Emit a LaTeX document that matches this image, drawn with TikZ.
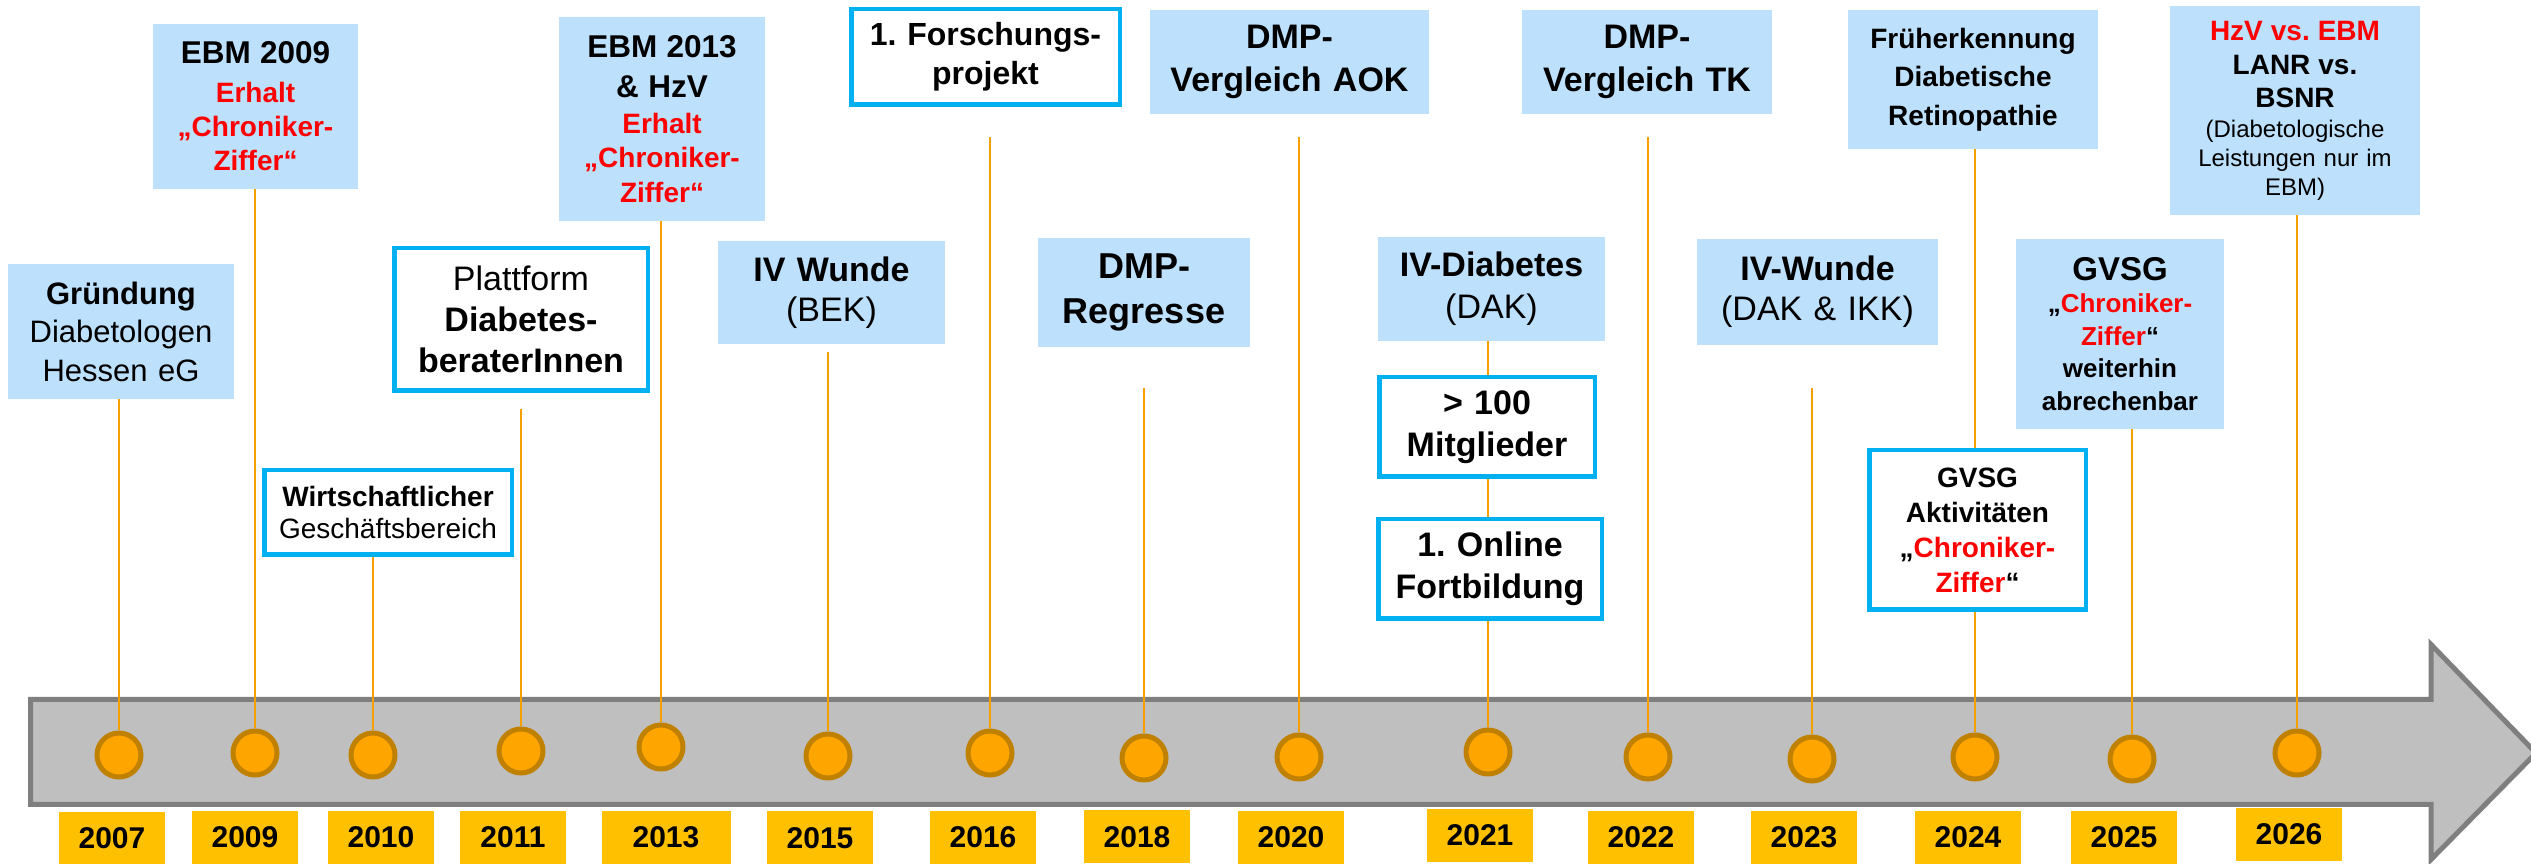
\documentclass[tikz,border=0pt]{standalone}
\usepackage{fontspec}
\setmainfont{Liberation Sans}
\usepackage{xcolor}
\usepackage{tikz}
\definecolor{boxblue}{RGB}{189, 224, 252}
\definecolor{framecyan}{RGB}{0, 176, 240}
\definecolor{zifferred}{RGB}{255, 0, 0}
\definecolor{yearyellow}{RGB}{255, 192, 0}
\definecolor{dotorange}{RGB}{255, 165, 0}
\definecolor{dotbrown}{RGB}{192, 128, 0}
\definecolor{stemorange}{RGB}{245, 160, 0}
\definecolor{barfill}{RGB}{191, 191, 191}
\definecolor{baredge}{RGB}{127, 127, 127}
\newcommand{\redtxt}[1]{\textcolor{zifferred}{#1}}
\frenchspacing

\begin{document}
\begin{tikzpicture}[
        x=1pt, y=1pt,
        bluebox/.style={rectangle, fill=boxblue, inner sep=0pt, align=center},
        framebox/.style={rectangle, draw=framecyan, line width=4.5pt, fill=white,
                    inner sep=0pt, align=center},
        yearbox/.style={rectangle, fill=yearyellow, minimum width=106pt, minimum height=53pt,
                    inner sep=0pt, font=\fontsize{30}{36}\selectfont\bfseries},
        dot/.style={circle, fill=dotorange, draw=dotbrown, line width=5pt,
                    minimum size=44pt, inner sep=0pt},
        stem/.style={draw=stemorange, line width=2pt}
    ]
        \useasboundingbox (0,0) rectangle (2531,864);

        % Timeline arrow
        \draw[fill=barfill, draw=baredge, line width=5pt, line join=miter]
            (30.5,164.5) -- (2431,164.5) -- (2431,219.5) -- (2536,111)
            -- (2431,4.5) -- (2431,59.5) -- (30.5,59.5) -- cycle;

        % Event boxes
        \node[bluebox, text width=226pt, minimum height=135pt, font=\fontsize{31}{38.5}\selectfont]
            (gruendung) at (121,532.5) {\textbf{Gründung}\\Diabetologen\\Hessen eG};
        \node[bluebox, text width=205pt, minimum height=165pt, font=\fontsize{28}{34}\selectfont\bfseries]
            (ebm09) at (255.5,757.5) {{\fontsize{31.5}{34}\selectfont EBM 2009}\\[5pt]\redtxt{Erhalt}\\\redtxt{„Chroniker-}\\\redtxt{Ziffer“}};
        \node[framebox, text width=247.5pt, minimum height=84.5pt, font=\fontsize{28}{32}\selectfont]
            (wirtschaft) at (388,351.5) {\textbf{Wirtschaftlicher}\\Geschäftsbereich};
        \node[framebox, text width=253.5pt, minimum height=142.5pt, font=\fontsize{34}{41}\selectfont]
            (plattform) at (521,544.5) {Plattform\\\textbf{Diabetes-}\\\textbf{beraterInnen}};
        \node[bluebox, text width=206pt, minimum height=204pt, font=\fontsize{28}{34.5}\selectfont\bfseries]
            (ebm13) at (662,745) {{\fontsize{31.5}{34}\selectfont EBM 2013}\\[5.5pt]{\fontsize{31.5}{34}\selectfont\& HzV}\\[1.5pt]\redtxt{Erhalt}\\\redtxt{„Chroniker-}\\\redtxt{Ziffer“}};
        \node[bluebox, text width=227pt, minimum height=103pt, font=\fontsize{34}{40}\selectfont]
            (ivwunde) at (831.5,571.5) {\textbf{IV Wunde}\\(BEK)};
        \node[framebox, text width=268.5pt, minimum height=95.5pt, font=\fontsize{32}{39}\selectfont\bfseries]
            (forschung) at (985.5,807) {1. Forschungs-\\projekt};
        \node[bluebox, text width=212pt, minimum height=109pt, font=\fontsize{36}{45}\selectfont\bfseries]
            (regresse) at (1144,571.5) {DMP-\\Regresse};
        \node[bluebox, text width=279pt, minimum height=104pt, font=\fontsize{34}{43}\selectfont\bfseries]
            (aok) at (1289.5,802) {DMP-\\Vergleich AOK};
        \node[bluebox, text width=227pt, minimum height=104pt, font=\fontsize{34}{42}\selectfont]
            (ivdiab) at (1491.5,575) {\textbf{IV-Diabetes}\\(DAK)};
        \node[framebox, text width=215.5pt, minimum height=99.5pt, font=\fontsize{34}{42}\selectfont\bfseries]
            (mitglieder) at (1487,437) {> 100\\Mitglieder};
        \node[framebox, text width=223.5pt, minimum height=99.5pt, font=\fontsize{34}{42}\selectfont\bfseries]
            (online) at (1490,295) {1. Online\\Fortbildung};
        \node[bluebox, text width=250pt, minimum height=104pt, font=\fontsize{34}{43}\selectfont\bfseries]
            (tk) at (1647,802) {DMP-\\Vergleich TK};
        \node[bluebox, text width=241pt, minimum height=106pt, font=\fontsize{34}{40}\selectfont]
            (ivwunde2) at (1817.5,572) {\textbf{IV-Wunde}\\(DAK \& IKK)};
        \node[bluebox, text width=250pt, minimum height=139pt, font=\fontsize{28}{38.5}\selectfont\bfseries]
            (retino) at (1973,784.5) {Früherkennung\\Diabetische\\Retinopathie};
        \node[framebox, text width=216.5pt, minimum height=159.5pt, font=\fontsize{28}{35}\selectfont\bfseries]
            (gvsgakt) at (1977.5,334) {GVSG\\Aktivitäten\\„\redtxt{Chroniker-}\\\redtxt{Ziffer}“};
        \node[bluebox, text width=208pt, minimum height=190pt, font=\fontsize{26}{32.5}\selectfont\bfseries]
            (gvsg) at (2120,530) {{\fontsize{33}{32.5}\selectfont GVSG}\\„\redtxt{Chroniker-}\\\redtxt{Ziffer}“\\weiterhin\\abrechenbar};
        \node[bluebox, text width=250pt, minimum height=209pt, font=\fontsize{24}{29}\selectfont]
            (hzv) at (2295,753.5) {\textbf{\fontsize{28}{29}\selectfont\redtxt{HzV vs. EBM}}\\[5pt]\textbf{\fontsize{28}{29}\selectfont LANR vs.}\\[4pt]\textbf{\fontsize{28}{29}\selectfont BSNR}\\[1pt](Diabetologische\\Leistungen nur im\\EBM)};

        % Dots on the arrow
        \node[dot] (c2007) at (119,109) {};
        \node[dot] (c2009) at (255,111) {};
        \node[dot] (c2010) at (373,109) {};
        \node[dot] (c2011) at (521,113) {};
        \node[dot] (c2013) at (661,117) {};
        \node[dot] (c2015) at (828,108) {};
        \node[dot] (c2016) at (990,111) {};
        \node[dot] (c2018) at (1144,106) {};
        \node[dot] (c2020) at (1299,107) {};
        \node[dot] (c2021) at (1488,112) {};
        \node[dot] (c2022) at (1648,107) {};
        \node[dot] (c2023) at (1812,105) {};
        \node[dot] (c2024) at (1975,107) {};
        \node[dot] (c2025) at (2132,105) {};
        \node[dot] (c2026) at (2297,111) {};

        % Stems
        \draw[stem] (c2007.north) -- (c2007 |- gruendung.south);
        \draw[stem] (c2009.north) -- (c2009 |- ebm09.south);
        \draw[stem] (c2010.north) -- (c2010 |- wirtschaft.south);
        \draw[stem, shorten >=16pt] (c2011.north) -- (c2011 |- plattform.south);
        \draw[stem] (c2013.north) -- (c2013 |- ebm13.south);
        \draw[stem, shorten >=8pt] (c2015.north) -- (c2015 |- ivwunde.south);
        \draw[stem, shorten >=30pt] (c2016.north) -- (c2016 |- forschung.south);
        \draw[stem, shorten >=41pt] (c2018.north) -- (c2018 |- regresse.south);
        \draw[stem, shorten >=23pt] (c2020.north) -- (c2020 |- aok.south);
        \draw[stem] (c2021.north) -- (c2021 |- online.south);
        \draw[stem] (c2021 |- online.north) -- (c2021 |- mitglieder.south);
        \draw[stem] (c2021 |- mitglieder.north) -- (c2021 |- ivdiab.south);
        \draw[stem, shorten >=23pt] (c2022.north) -- (c2022 |- tk.south);
        \draw[stem, shorten >=43pt] (c2023.north) -- (c2023 |- ivwunde2.south);
        \draw[stem] (c2024.north) -- (c2024 |- gvsgakt.south);
        \draw[stem] (c2024 |- gvsgakt.north) -- (c2024 |- retino.south);
        \draw[stem] (c2025.north) -- (c2025 |- gvsg.south);
        \draw[stem] (c2026.north) -- (c2026 |- hzv.south);

        % Years
        \node[yearbox] (y2007) at (112,25.5) {2007};
        \node[yearbox] (y2009) at (245,26.5) {2009};
        \node[yearbox] (y2010) at (381,26.5) {2010};
        \node[yearbox] (y2011) at (513,26.5) {2011};
        \node[yearbox, minimum width=129pt] (y2013) at (666,26.5) {2013};
        \node[yearbox] (y2015) at (820,26) {2015};
        \node[yearbox] (y2016) at (983,26.5) {2016};
        \node[yearbox] (y2018) at (1137,27) {2018};
        \node[yearbox] (y2020) at (1291,26.5) {2020};
        \node[yearbox] (y2021) at (1480,28.5) {2021};
        \node[yearbox] (y2022) at (1641,26.5) {2022};
        \node[yearbox] (y2023) at (1804,26.5) {2023};
        \node[yearbox] (y2024) at (1968,26.5) {2024};
        \node[yearbox] (y2025) at (2124,26.5) {2025};
        \node[yearbox] (y2026) at (2289,29.5) {2026};
    \end{tikzpicture}
\end{document}
